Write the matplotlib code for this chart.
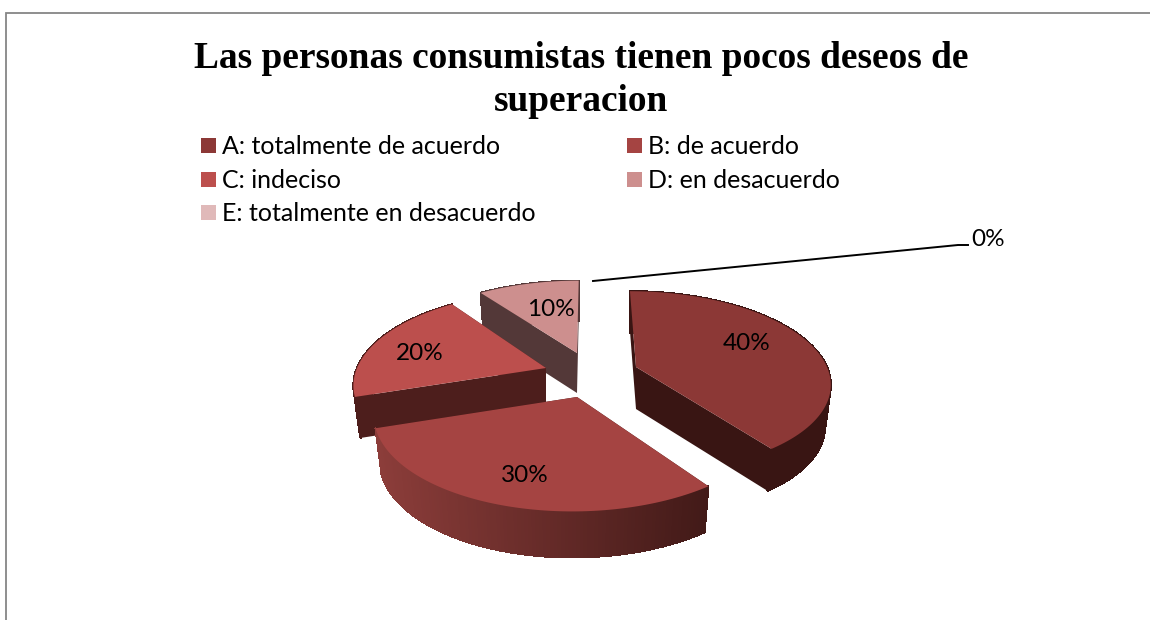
"""
Exploded 3D style pie chart, drawn on an axes that runs in pixels
"""

import numpy as np
import matplotlib
matplotlib.use('Agg')
import matplotlib.pyplot as plt
from matplotlib.colors import to_rgb
from matplotlib.collections import PolyCollection

TITLE = 'Las personas consumistas tienen pocos deseos de\nsuperacion'
CATEGORIES = ['A: totalmente de acuerdo', 'B: de acuerdo', 'C: indeciso',
              'D: en desacuerdo', 'E: totalmente en desacuerdo']
VALUES = [40, 30, 20, 10, 0]
LEGEND_COLORS = ['#8c3836', '#a54442', '#bc4f4d', '#cd8f8e', '#e0b9b9']

# layout of the four visible slices: top colour, wall colours (left, right)
WALLS = [('#391513', '#391513'), ('#8c3d3a', '#421a18'),
         ('#4d1e1c', '#4d1e1c'), ('#533838', '#533838')]
APEX = [(636, 367), (577, 397), (546, 368), (577, 353)]
RADIUS_X = [191, 200, 189, 188]
RADIUS_Y = [88, 96, 89, 84]
SHEAR = [-7, 4, 6, 2]
DEPTH = [42, 46, 41, 40]
LABEL_POS = [(747, 344), (525, 476), (420, 354), (551, 310)]
DRAW_ORDER = [3, 2, 0, 1]
PERSPECTIVE = 0.161

SANS = 'Lato'
LEGEND_SIZE = 18
LABEL_SIZE = 17.5


def rim(i, angle):
    """ Top surface point of slice i at clockwise angle (radians) and radius 1 """
    u, v = np.sin(angle), np.cos(angle)
    w = 1 + PERSPECTIVE * v
    x = APEX[i][0] + (RADIUS_X[i] * u + SHEAR[i] * v) / w
    y = APEX[i][1] - RADIUS_Y[i] * v / w
    return np.column_stack([np.atleast_1d(x), np.atleast_1d(y)])


def base(i, pts):
    """ Move top surface points to the bottom of the slice """
    out = np.array(pts, dtype=float)
    out[:, 0] = APEX[i][0] + 0.97 * (out[:, 0] - APEX[i][0])
    out[:, 1] += DEPTH[i]
    return out


def draw_slice(ax, i, start, stop):
    angles = np.linspace(start, stop, 120)
    arc = rim(i, angles)
    arc_low = base(i, arc)
    apex = np.array([APEX[i]], dtype=float)
    apex_low = base(i, apex)
    left, right = [np.array(to_rgb(c)) for c in WALLS[i]]

    # flat cut faces first, the round wall over them, the top over all
    for end in (arc[:1], arc[-1:]):
        face = np.vstack([apex, end, base(i, end), apex_low])
        ax.fill(face[:, 0], face[:, 1], color=WALLS[i][1], lw=0)

    quads = [np.vstack([arc[k], arc[k + 1], arc_low[k + 1], arc_low[k]])
             for k in range(len(arc) - 1)]
    xmin, xmax = arc[:, 0].min(), arc[:, 0].max()
    mix = (arc[:-1, 0] - xmin) / (xmax - xmin)
    colors = [tuple(left + (right - left) * m) for m in mix]
    ax.add_collection(PolyCollection(quads, facecolors=colors, edgecolors=colors,
                                     linewidths=0.8, antialiaseds=False))

    top = np.vstack([apex, arc])
    ax.fill(top[:, 0], top[:, 1], color=LEGEND_COLORS[i], lw=0)


fig = plt.figure(figsize=(11.5, 6.2), dpi=100)
ax = fig.add_axes([0, 0, 1, 1])
ax.set_xlim(0, 1150)
ax.set_ylim(620, 0)
ax.axis('off')

# chart frame, cut by the picture on the right and at the bottom
ax.plot([5.5, 5.5, 1150], [620, 12.5, 12.5], color='#868686', lw=1.3, solid_joinstyle='miter')

ax.text(581, 80, TITLE, ha='center', va='center', family='Liberation Serif',
        weight='bold', fontsize=26.9, color='black', linespacing=1.3)

# legend, two columns
for n, (name, color) in enumerate(zip(CATEGORIES, LEGEND_COLORS)):
    x = 201 + 426 * (n % 2)
    y = 145.5 + 33.5 * (n // 2)
    ax.add_patch(plt.Rectangle((x, y - 7.5), 15, 15, color=color, lw=0))
    ax.text(x + 21, y + 1, name, ha='left', va='center', family=SANS, fontsize=LEGEND_SIZE, color='black')

edges = np.cumsum([0] + VALUES) / sum(VALUES) * 2 * np.pi
for i in DRAW_ORDER:
    draw_slice(ax, i, edges[i], edges[i + 1])

for (x, y), value in zip(LABEL_POS, VALUES):
    ax.text(x, y, '%d%%' % value, ha='center', va='center', family=SANS,
            fontsize=LABEL_SIZE, color='black')

# the empty slice only has its leader line and label
ax.plot([593, 958, 968], [281, 245, 245], color='black', lw=1.4)
ax.text(988, 240, '%d%%' % VALUES[4], ha='center', va='center', family=SANS,
        fontsize=LABEL_SIZE, color='black')

fig.savefig('out.png', dpi=100)
plt.close(fig)
